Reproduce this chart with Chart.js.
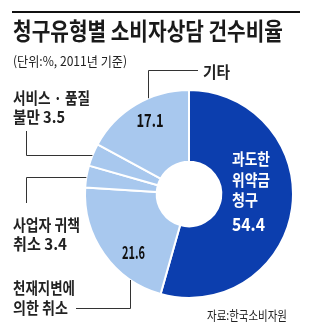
<!DOCTYPE html>
<html>
<head>
<meta charset="utf-8">
<script src="https://cdn.jsdelivr.net/npm/chart.js@4"></script>
<style>
  html, body { margin: 0; padding: 0; background: #fff; }
  #wrap { position: relative; width: 314px; height: 328px; }
  canvas { display: block; }
</style>
</head>
<body>
<div id="wrap"><canvas id="c" width="314" height="328"></canvas></div>
<script>
// ---- data ----
const titleText = '청구유형별 소비자상담 건수비율';
const subtitleText = '(단위:%, 2011년 기준)';
const sourceText = '자료:한국소비자원';
const categories = ['과도한 위약금 청구', '천재지변에 의한 취소', '사업자 귀책 취소', '서비스 · 품질 불만', '기타'];
const values = [54.4, 21.6, 3.4, 3.5, 17.1];
const sliceColors = ['#0c3eae', '#a8c8ee', '#a8c8ee', '#a8c8ee', '#a8c8ee'];

const FONT = '"Noto Sans CJK KR", "Noto Sans", sans-serif';

function txt(ctx, s, x, y, size, weight, color, align, width) {
  ctx.save();
  ctx.font = weight + ' ' + size + 'px ' + FONT;
  ctx.fillStyle = color;
  ctx.textBaseline = 'middle';
  ctx.textAlign = align;
  const m = ctx.measureText(s).width;
  const sx = width ? width / m : 1;
  ctx.translate(x, y);
  ctx.scale(sx, 1);
  ctx.fillText(s, 0, 0);
  ctx.restore();
}

function line(ctx, pts) {
  ctx.save();
  ctx.strokeStyle = '#333';
  ctx.lineWidth = 1;
  ctx.beginPath();
  pts.forEach((p, i) => i ? ctx.lineTo(p[0], p[1]) : ctx.moveTo(p[0], p[1]));
  ctx.stroke();
  ctx.restore();
}

const annot = {
  id: 'annot',
  afterDraw(chart) {
    const ctx = chart.ctx;
    const arc = chart.getDatasetMeta(0).data[0];
    const cx = arc.x, cy = arc.y, R = arc.outerRadius;
    const edgeX = (y) => cx - Math.sqrt(Math.max(R * R - (y - cy) * (y - cy), 0));
    const edgeYTop = (x) => cy - Math.sqrt(Math.max(R * R - (x - cx) * (x - cx), 0));
    const edgeYBot = (x) => cy + Math.sqrt(Math.max(R * R - (x - cx) * (x - cx), 0));
    const v = values.map(n => n.toFixed(1));

    // header
    ctx.save();
    ctx.fillStyle = '#111';
    ctx.fillRect(12, 11, 288, 2);
    ctx.restore();
    txt(ctx, titleText, 13, 31, 24, 'bold', '#1a1a1a', 'left', 270);
    txt(ctx, subtitleText, 13, 61.5, 13, 'normal', '#222', 'left', 114);

    // 기타
    line(ctx, [[198, 70.5], [148.5, 70.5], [148.5, edgeYTop(148.5)]]);
    txt(ctx, '기타', 203, 72, 16, 'bold', '#222', 'left', 27);
    txt(ctx, v[4], cx - 39, cy - 73.5, 18, 'bold', '#111', 'center', 27);

    // 서비스 · 품질 불만
    txt(ctx, '서비스 · 품질', 13, 97.5, 16, 'bold', '#222', 'left', 77);
    txt(ctx, '불만 ' + v[3], 13, 116.5, 16, 'bold', '#222', 'left', 52);
    line(ctx, [[26.5, 131], [26.5, 155.5], [edgeX(155.5), 155.5]]);

    // 사업자 귀책 취소
    line(ctx, [[edgeX(177.5), 177.5], [26.5, 177.5], [26.5, 203]]);
    txt(ctx, '사업자 귀책', 13, 225, 16, 'bold', '#222', 'left', 67);
    txt(ctx, '취소 ' + v[2], 13, 243.5, 16, 'bold', '#222', 'left', 54);

    // 천재지변에 의한 취소
    txt(ctx, v[1], cx - 55.5, cy + 58.5, 18, 'bold', '#111', 'center', 23);
    txt(ctx, '천재지변에', 13, 287.5, 16, 'bold', '#222', 'left', 62);
    txt(ctx, '의한 취소', 13, 307.5, 16, 'bold', '#222', 'left', 55);
    line(ctx, [[76, 308.5], [130.5, 308.5], [130.5, edgeYBot(130.5)]]);

    // 과도한 위약금 청구
    const nameParts = categories[0].split(' ');
    const lx = cx + 43;
    txt(ctx, nameParts[0], lx, cy - 35, 16, 'bold', '#fff', 'left', 38);
    txt(ctx, nameParts[1], lx, cy - 14.5, 16, 'bold', '#fff', 'left', 38);
    txt(ctx, nameParts[2], lx, cy + 6, 16, 'bold', '#fff', 'left', 26);
    txt(ctx, v[0], lx, cy + 30.5, 18, 'bold', '#fff', 'left', 33);

    // source
    txt(ctx, sourceText, 207, 315, 13, 'normal', '#222', 'left', 80);
  }
};

new Chart(document.getElementById('c'), {
  type: 'doughnut',
  data: {
    labels: categories,
    datasets: [{
      data: values,
      backgroundColor: sliceColors,
      borderColor: '#ffffff',
      borderWidth: 2,
      hoverOffset: 0
    }]
  },
  options: {
    responsive: false,
    animation: false,
    radius: 104,
    cutout: 32,
    layout: { padding: { left: 85, right: 21, top: 90, bottom: 30 } },
    plugins: { legend: { display: false }, tooltip: { enabled: false }, title: { display: false } },
    events: []
  },
  plugins: [annot]
});
</script>
</body>
</html>
